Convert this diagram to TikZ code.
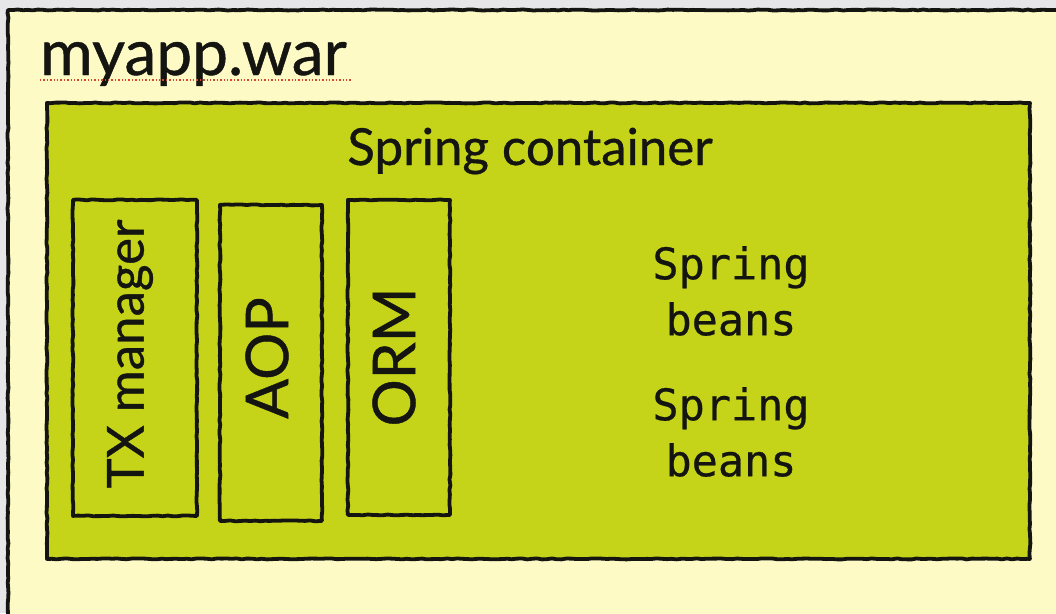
\documentclass[tikz,border=0pt]{standalone}
\usepackage{fontspec}
\setmainfont{Lato}[FakeBold=0.7]
\newfontfamily\beanfont{DejaVu Sans Mono}[FakeBold=0.5]
\usetikzlibrary{decorations.pathmorphing,calc}
\definecolor{pagegray}{HTML}{E6E6E8}
\definecolor{warpaper}{HTML}{FEFAC6}
\definecolor{springgreen}{HTML}{C5D418}
\definecolor{inkline}{HTML}{141410}
\definecolor{spellred}{HTML}{D8482E}
\tikzset{
  sketch/.style={draw=inkline, line width=3.8pt, line join=round,
    decorate, decoration={random steps, segment length=5pt, amplitude=0.5pt}},
  modbox/.style={sketch, fill=springgreen},
  sidelabel/.style={text=inkline, rotate=90},
  beans/.style={font=\beanfont\fontsize{43.5}{56}\selectfont, text=inkline, align=center},
}
\begin{document}
\begin{tikzpicture}[x=1pt,y=-1pt]
  % page and bounding box
  \fill[pagegray] (0,0) rectangle (1056,613);
  \useasboundingbox (0,0) rectangle (1056,613);

  % the war archive
  \fill[warpaper] (8,10) rectangle (1060,620);
  \draw[sketch] (8,618) -- (8,10) -- (1062,10);
  \node[anchor=base west, inner sep=0pt, text=inkline,
        font=\fontsize{64}{72}\selectfont] (war) at (40,75) {myapp.war};
  \draw[spellred, line width=1.4pt, dash pattern=on 1.4pt off 2pt]
    ($(war.base west)+(0,5)$) -- ($(war.base east)+(4,5)$);

  % spring container
  \node[modbox, minimum width=983pt, minimum height=456pt, anchor=north west,
        inner sep=0pt] (ctr) at (45,101) {};
  \node[anchor=base, inner sep=0pt, text=inkline,
        font=\fontsize{51}{60}\selectfont] (ctrlabel) at (530,165) {Spring container};

  % infrastructure modules
  \node[modbox, minimum width=124pt, minimum height=316pt, anchor=north west,
        inner sep=0pt] (tx) at (71,198) {};
  \node[sidelabel, font=\fontsize{51}{60}\selectfont] (txlabel) at (130,354) {TX manager};
  \node[modbox, minimum width=102pt, minimum height=316pt, anchor=north west,
        inner sep=0pt] (aop) at (218,203) {};
  \node[sidelabel, font=\fontsize{59}{70}\selectfont] (aoplabel) at (267,358) {AOP};
  \node[modbox, minimum width=102pt, minimum height=315pt, anchor=north west,
        inner sep=0pt] (orm) at (346,198) {};
  \node[sidelabel, font=\fontsize{59}{70}\selectfont] (ormlabel) at (394,357) {ORM};

  % beans
  \node[beans] (beans1) at (731,291) {Spring\\beans};
  \node[beans] (beans2) at (731,432) {Spring\\beans};
\end{tikzpicture}
\end{document}
